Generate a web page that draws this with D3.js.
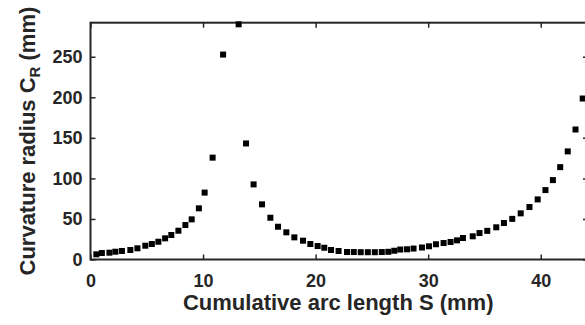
<!DOCTYPE html>
<html>
<head>
<meta charset="utf-8">
<script src="https://cdn.jsdelivr.net/npm/d3@7"></script>
<style>
body { margin: 0; background: #fff; }
svg { display: block; }
</style>
</head>
<body>
<svg id="chart" width="585" height="325"></svg>
<script>
// cumulative arc length S (mm)
var arcLength = [0.52, 1.01, 1.68, 2.21, 2.79, 3.54, 4.17, 4.87, 5.45, 6.03,
	6.63, 7.18, 7.81, 8.43, 8.99, 9.63, 10.14, 10.85, 11.78, 13.16,
	13.82, 14.49, 15.24, 15.98, 16.66, 17.40, 18.11, 18.88, 19.53, 20.18,
	20.77, 21.37, 22.04, 22.79, 23.39, 24.01, 24.64, 25.26, 25.88, 26.46,
	26.99, 27.52, 28.12, 28.70, 29.45, 30.07, 30.69, 31.37, 31.99, 32.56,
	33.09, 33.96, 34.56, 35.25, 36.05, 36.73, 37.47, 38.22, 39.00, 39.73,
	40.42, 41.08, 41.73, 42.40, 43.09, 43.73];

// curvature radius C_R (mm)
var radius = [6.4, 8.0, 8.4, 9.6, 10.5, 11.7, 13.8, 17.0, 19.1, 21.9,
	26.1, 30.2, 35.5, 42.5, 49.5, 63.1, 82.5, 125.6, 252.7, 290,
	143.1, 92.6, 68.0, 51.5, 40.4, 33.5, 27.3, 23.2, 19.1, 16.6,
	14.5, 11.7, 10.5, 9.2, 9.2, 9.0, 9.0, 9.0, 9.2, 9.5,
	10.8, 12.3, 12.6, 13.5, 14.8, 16.3, 18.8, 20.3, 21.6, 23.6,
	26.5, 28.6, 32.6, 35.3, 39.7, 45.0, 50.1, 56.9, 64.7, 74.1,
	85.6, 97.9, 113.9, 133.3, 160.3, 198.5];

var xTicks = [0, 10, 20, 30, 40];
var yTicks = [0, 50, 100, 150, 200, 250];

var svg = d3.select("#chart");
var axisColor = "#262626";

// note: "top" is a reserved window property, so use plot* names
var plotL = 90.5, plotR = 588, plotT = 22.7, plotB = 259.5;

var x = d3.scaleLinear().domain([0, 44.2]).range([plotL, plotR]);
var y = d3.scaleLinear().domain([0, 292]).range([plotB, plotT]);

// box
svg.append("rect")
	.attr("x", plotL)
	.attr("y", plotT)
	.attr("width", plotR - plotL)
	.attr("height", plotB - plotT)
	.attr("fill", "none")
	.attr("stroke", axisColor)
	.attr("stroke-width", 2);

function styleAxis(g) {
	g.select(".domain").remove();
	g.selectAll(".tick line").attr("stroke", axisColor).attr("stroke-width", 1.5);
	g.selectAll(".tick text")
		.attr("fill", axisColor)
		.style("font-family", "'Liberation Sans', Arial, sans-serif")
		.style("font-weight", "bold")
		.style("font-size", "18px");
}

svg.append("g")
	.attr("transform", "translate(0," + plotB + ")")
	.call(d3.axisBottom(x).tickValues(xTicks).tickSizeInner(-5).tickSizeOuter(0).tickPadding(15))
	.call(styleAxis);

svg.append("g")
	.attr("transform", "translate(" + plotL + ",0)")
	.call(d3.axisLeft(y).tickValues(yTicks).tickSizeInner(-5).tickSizeOuter(0).tickPadding(8))
	.call(styleAxis);

// mirrored ticks on top and right
svg.append("g")
	.attr("transform", "translate(0," + plotT + ")")
	.call(d3.axisTop(x).tickValues(xTicks).tickSizeInner(-5).tickSizeOuter(0).tickFormat(""))
	.call(styleAxis);

svg.append("g")
	.attr("transform", "translate(" + plotR + ",0)")
	.call(d3.axisRight(y).tickValues(yTicks).tickSizeInner(-5).tickSizeOuter(0).tickFormat(""))
	.call(styleAxis);

// markers
var size = 6;
svg.append("g")
	.selectAll("rect")
	.data(d3.range(arcLength.length))
	.enter()
	.append("rect")
	.attr("x", function(i) { return x(arcLength[i]) - size / 2; })
	.attr("y", function(i) { return y(radius[i]) - size / 2; })
	.attr("width", size)
	.attr("height", size)
	.attr("fill", "#000");

// labels
svg.append("text")
	.attr("x", (plotL + plotR) / 2 - 1)
	.attr("y", 310)
	.attr("text-anchor", "middle")
	.style("font-family", "'Liberation Sans', Arial, sans-serif")
	.style("font-weight", "bold")
	.style("font-size", "22px")
	.attr("fill", axisColor)
	.text("Cumulative arc length S (mm)");

var yl = svg.append("text")
	.attr("transform", "translate(35," + (plotT + plotB) / 2 + ") rotate(-90)")
	.attr("text-anchor", "middle")
	.style("font-family", "'Liberation Sans', Arial, sans-serif")
	.style("font-weight", "bold")
	.style("font-size", "22px")
	.attr("fill", axisColor);
yl.append("tspan").text("Curvature radius C");
yl.append("tspan").attr("dy", 5).style("font-size", "15px").text("R");
yl.append("tspan").attr("dy", -5).text(" (mm)");
</script>
</body>
</html>
